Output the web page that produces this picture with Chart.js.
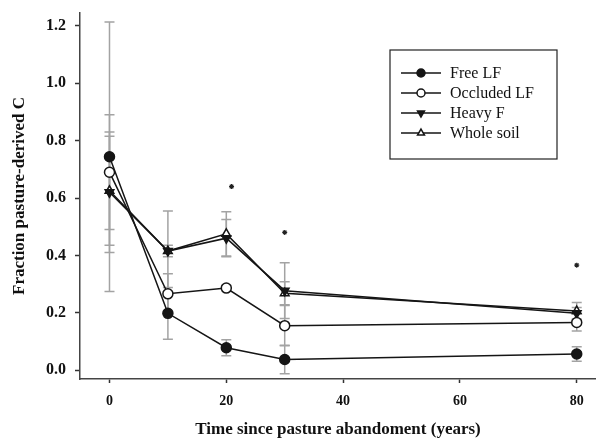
<!DOCTYPE html>
<html lang="en">
<head>
<meta charset="UTF-8">
<title>Fraction pasture-derived C</title>
<script src="https://cdn.jsdelivr.net/npm/chart.js"></script>
<style>
    html, body { margin: 0; padding: 0; background: #ffffff; }
    #wrap { position: relative; width: 596px; height: 441px; }
</style>
</head>
<body>
<div id="wrap"><canvas id="chart"></canvas></div>
<script>
    // years since pasture abandonment
    const years = [0, 10, 20, 30, 80];

    const freeLF = [0.744, 0.198, 0.078, 0.037, 0.056];
    const freeLFErr = [0.47, 0.09, 0.028, 0.05, 0.025];

    const occludedLF = [0.69, 0.266, 0.286, 0.155, 0.166];
    const occludedLFErr = [0.2, 0.07, 0.01, 0.07, 0.03];

    const heavyF = [0.62, 0.415, 0.46, 0.277, 0.198];
    const heavyFErr = [0.21, 0.02, 0.065, 0.097, 0.02];

    const wholeSoil = [0.625, 0.415, 0.475, 0.268, 0.206];
    const wholeSoilErr = [0.19, 0.14, 0.077, 0.04, 0.03];

    // significance markers (*)
    const starX = [20.9, 30, 80];
    const starY = [0.64, 0.48, 0.366];

    const xTicks = [0, 20, 40, 60, 80];
    const yTicks = [0, 0.2, 0.4, 0.6, 0.8, 1.0, 1.2];
    const yTickLabels = ['0.0', '0.2', '0.4', '0.6', '0.8', '1.0', '1.2'];

    const serif = "'Liberation Serif', 'Times New Roman', serif";
    const lineColor = '#151515';

    function pts(vals) {
        return years.map((x, i) => ({ x: x, y: vals[i] }));
    }

    const series = [
        { label: 'Free LF', data: freeLF, err: freeLFErr, style: 'circle', fill: lineColor, rot: 0, r: 5 },
        { label: 'Occluded LF', data: occludedLF, err: occludedLFErr, style: 'circle', fill: '#ffffff', rot: 0, r: 5 },
        { label: 'Heavy F', data: heavyF, err: heavyFErr, style: 'triangle', fill: lineColor, rot: 180, r: 5 },
        { label: 'Whole soil', data: wholeSoil, err: wholeSoilErr, style: 'triangle', fill: '#ffffff', rot: 0, r: 5 }
    ];

    const datasets = series.map(s => ({
        label: s.label,
        data: pts(s.data),
        showLine: true,
        borderColor: lineColor,
        borderWidth: 1.5,
        tension: 0,
        pointStyle: s.style,
        pointRotation: s.rot,
        pointRadius: s.r,
        pointBackgroundColor: s.fill,
        pointBorderColor: lineColor,
        pointBorderWidth: 1.5,
        errors: s.err
    }));

    datasets.push({
        label: 'stars',
        data: starX.map((x, i) => ({ x: x, y: starY[i] })),
        showLine: false,
        pointStyle: 'star',
        pointRadius: 2.5,
        pointBorderColor: '#222',
        pointBorderWidth: 1.2
    });

    // gray error bars behind the lines
    const errorBars = {
        id: 'errorBars',
        beforeDatasetsDraw(chart) {
            const ctx = chart.ctx;
            const xs = chart.scales.x, ys = chart.scales.y;
            ctx.save();
            ctx.strokeStyle = '#a3a3a3';
            ctx.lineWidth = 1.5;
            chart.data.datasets.forEach(ds => {
                if (!ds.errors) return;
                ds.data.forEach((p, i) => {
                    const e = ds.errors[i];
                    const px = xs.getPixelForValue(p.x);
                    const top = ys.getPixelForValue(p.y + e);
                    const bot = ys.getPixelForValue(p.y - e);
                    ctx.beginPath();
                    ctx.moveTo(px, top); ctx.lineTo(px, bot);
                    ctx.moveTo(px - 5, top); ctx.lineTo(px + 5, top);
                    ctx.moveTo(px - 5, bot); ctx.lineTo(px + 5, bot);
                    ctx.stroke();
                });
            });
            ctx.restore();
        }
    };

    // boxed legend, top right
    const boxLegend = {
        id: 'boxLegend',
        afterDraw(chart) {
            const ctx = chart.ctx;
            const bx = 390, by = 50, bw = 167, bh = 109;
            ctx.save();
            ctx.fillStyle = '#ffffff';
            ctx.fillRect(bx, by, bw, bh);
            ctx.strokeStyle = '#222';
            ctx.lineWidth = 1.2;
            ctx.strokeRect(bx, by, bw, bh);
            ctx.font = '16px ' + serif;
            ctx.textBaseline = 'middle';
            series.forEach((s, i) => {
                const y = 73 + i * 20;
                ctx.strokeStyle = lineColor;
                ctx.lineWidth = 1.5;
                ctx.beginPath();
                ctx.moveTo(401, y); ctx.lineTo(441, y);
                ctx.stroke();
                ctx.fillStyle = s.fill;
                ctx.strokeStyle = lineColor;
                Chart.helpers.drawPoint(ctx, {
                    pointStyle: s.style, rotation: s.rot, radius: 4, borderWidth: 1.5
                }, 421, y);
                ctx.fillStyle = '#111';
                ctx.fillText(s.label, 450, y + 1);
            });
            ctx.restore();
        }
    };

    new Chart(document.getElementById('chart'), {
        type: 'scatter',
        data: { datasets: datasets },
        plugins: [errorBars, boxLegend],
        options: {
            responsive: true,
            maintainAspectRatio: false,
            animation: false,
            layout: { autoPadding: false, padding: { top: 13, right: 0, left: 0, bottom: 0 } },
            plugins: {
                legend: { display: false },
                tooltip: { enabled: false }
            },
            scales: {
                x: {
                    type: 'linear',
                    min: -5.05,
                    max: 83.3,
                    afterBuildTicks: s => { s.ticks = xTicks.map(v => ({ value: v })); },
                    afterFit: s => { s.height = 62; s.paddingLeft = 0; s.paddingRight = 0; },
                    grid: { drawOnChartArea: false, drawTicks: true, tickLength: 4, tickWidth: 1.5, color: '#333' },
                    border: { display: true, color: '#444', width: 1.5 },
                    ticks: {
                        color: '#111',
                        padding: 10,
                        maxRotation: 0,
                        font: { family: serif, size: 14, weight: 'bold' }
                    },
                    title: {
                        display: true,
                        text: 'Time since pasture abandoment (years)',
                        color: '#111',
                        padding: { top: 0, bottom: 1 },
                        font: { family: serif, size: 17, weight: 'bold' }
                    }
                },
                y: {
                    type: 'linear',
                    min: -0.031,
                    max: 1.245,
                    afterBuildTicks: s => { s.ticks = yTicks.map(v => ({ value: v })); },
                    afterFit: s => { s.width = 80; s.paddingTop = 0; s.paddingBottom = 0; },
                    grid: { drawOnChartArea: false, drawTicks: true, tickLength: 5, tickWidth: 1.5, color: '#333' },
                    border: { display: true, color: '#444', width: 1.5 },
                    ticks: {
                        color: '#111',
                        padding: 9,
                        font: { family: serif, size: 16, weight: 'bold' },
                        callback: (v) => {
                            const i = yTicks.findIndex(t => Math.abs(t - v) < 1e-6);
                            return i >= 0 ? yTickLabels[i] : '';
                        }
                    },
                    title: {
                        display: true,
                        text: 'Fraction pasture-derived C',
                        color: '#111',
                        padding: { top: 9, bottom: 0 },
                        font: { family: serif, size: 17, weight: 'bold' }
                    }
                }
            }
        }
    });
</script>
</body>
</html>
